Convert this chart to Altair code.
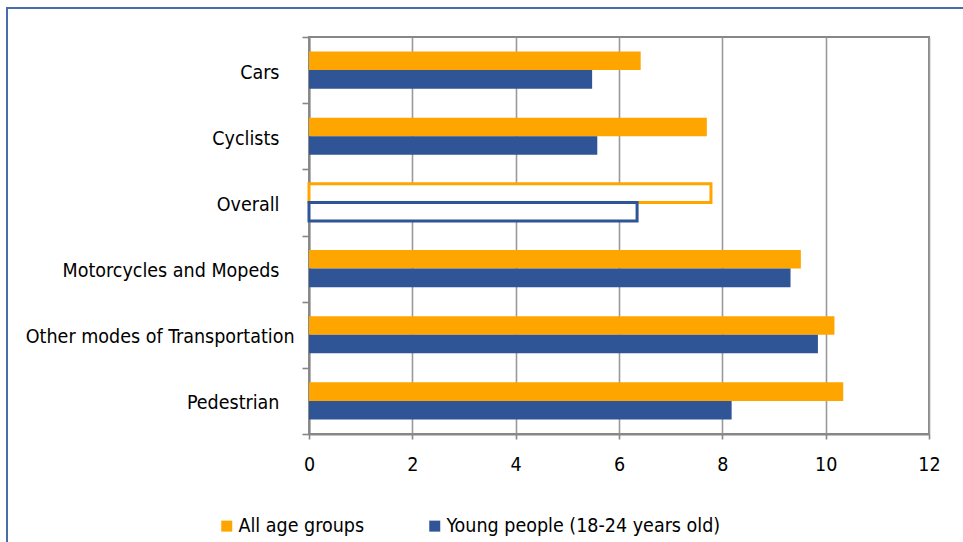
import altair as alt
import pandas as pd

# Categories top to bottom and the two series
categories = [
    "Cars",
    "Cyclists",
    "Overall",
    "Motorcycles and Mopeds",
    "Other modes of Transportation",
    "Pedestrian",
]
series_names = ["All age groups", "Young people (18-24 years old)"]
all_ages = [6.42, 7.70, 7.78, 9.52, 10.17, 10.34]
young = [5.48, 5.58, 6.35, 9.32, 9.85, 8.18]
x_ticks = [0, 2, 4, 6, 8, 10, 12]

colors = ["#FFA500", "#2F5597"]
grey = "#878787"
font = "DejaVu Sans Condensed, DejaVu Sans, sans-serif"
fsize = 19.5

rows = []
for cat, a, y in zip(categories, all_ages, young):
    rows.append({"category": cat, "group": series_names[0], "value": a})
    rows.append({"category": cat, "group": series_names[1], "value": y})
df = pd.DataFrame(rows)

is_overall = alt.datum.category == "Overall"

bars = alt.Chart(df).mark_bar().encode(
    x=alt.X(
        "value:Q",
        scale=alt.Scale(domain=[0, 12], nice=False, zero=True),
        axis=alt.Axis(
            values=x_ticks,
            title=None,
            grid=True,
            gridColor="#9a9a9a",
            gridWidth=1.6,
            domainColor=grey,
            domainWidth=2,
            tickColor=grey,
            tickWidth=1.6,
            tickSize=5,
            labelPadding=16,
            labelFlush=False,
            labelFontSize=fsize,
            labelFont=font,
            labelColor="#000000",
        ),
    ),
    y=alt.Y(
        "category:N",
        sort=categories,
        scale=alt.Scale(paddingInner=0, paddingOuter=0),
        axis=alt.Axis(
            title=None,
            tickBand="extent",
            domainColor=grey,
            domainWidth=2,
            tickColor=grey,
            tickWidth=1.6,
            tickSize=7,
            labelPadding={
                "condition": {
                    "test": "datum.value == 'Other modes of Transportation'",
                    "value": 8,
                },
                "value": 23,
            },
            labelOffset=2,
            labelAlign="right",
            labelFontSize=fsize,
            labelFont=font,
            labelColor="#000000",
            labelLimit=400,
        ),
    ),
    yOffset=alt.YOffset(
        "group:N",
        sort=series_names,
        scale=alt.Scale(paddingInner=0, paddingOuter=0.78),
    ),
    color=alt.condition(
        is_overall,
        alt.value("white"),
        alt.Color(
            "group:N",
            sort=series_names,
            scale=alt.Scale(domain=series_names, range=colors),
            legend=alt.Legend(
                title=None,
                orient="none",
                direction="horizontal",
                legendX=-92,
                legendY=479,
                symbolType="square",
                symbolSize=121,
                symbolStrokeWidth=0,
                labelFontSize=fsize,
                labelFont=font,
                labelColor="#000000",
                labelOffset=2,
                columnPadding=60,
                labelLimit=400,
            ),
        ),
    ),
    stroke=alt.Stroke(
        "group:N",
        sort=series_names,
        scale=alt.Scale(domain=series_names, range=colors),
        legend=None,
    ),
    strokeWidth=alt.condition(is_overall, alt.value(3), alt.value(0)),
)

# outer blue frame around the figure (runs off the right and bottom edges)
frame = alt.Chart(pd.DataFrame({"k": [0]})).mark_rect(
    fill=None, stroke="#4A6DAA", strokeWidth=2
).encode(
    x=alt.value(-302),
    x2=alt.value(800),
    y=alt.value(-29),
    y2=alt.value(700),
)

chart = (
    alt.layer(frame, bars)
    .properties(
        width=620,
        height=397,
        autosize=alt.AutoSizeParams(type="none"),
        padding={"left": 309, "top": 37, "right": 34, "bottom": 108},
        background="white",
    )
    .configure_view(stroke=grey, strokeWidth=2)
)

chart.save("out.html", embed_options={"renderer": "svg", "actions": False})
